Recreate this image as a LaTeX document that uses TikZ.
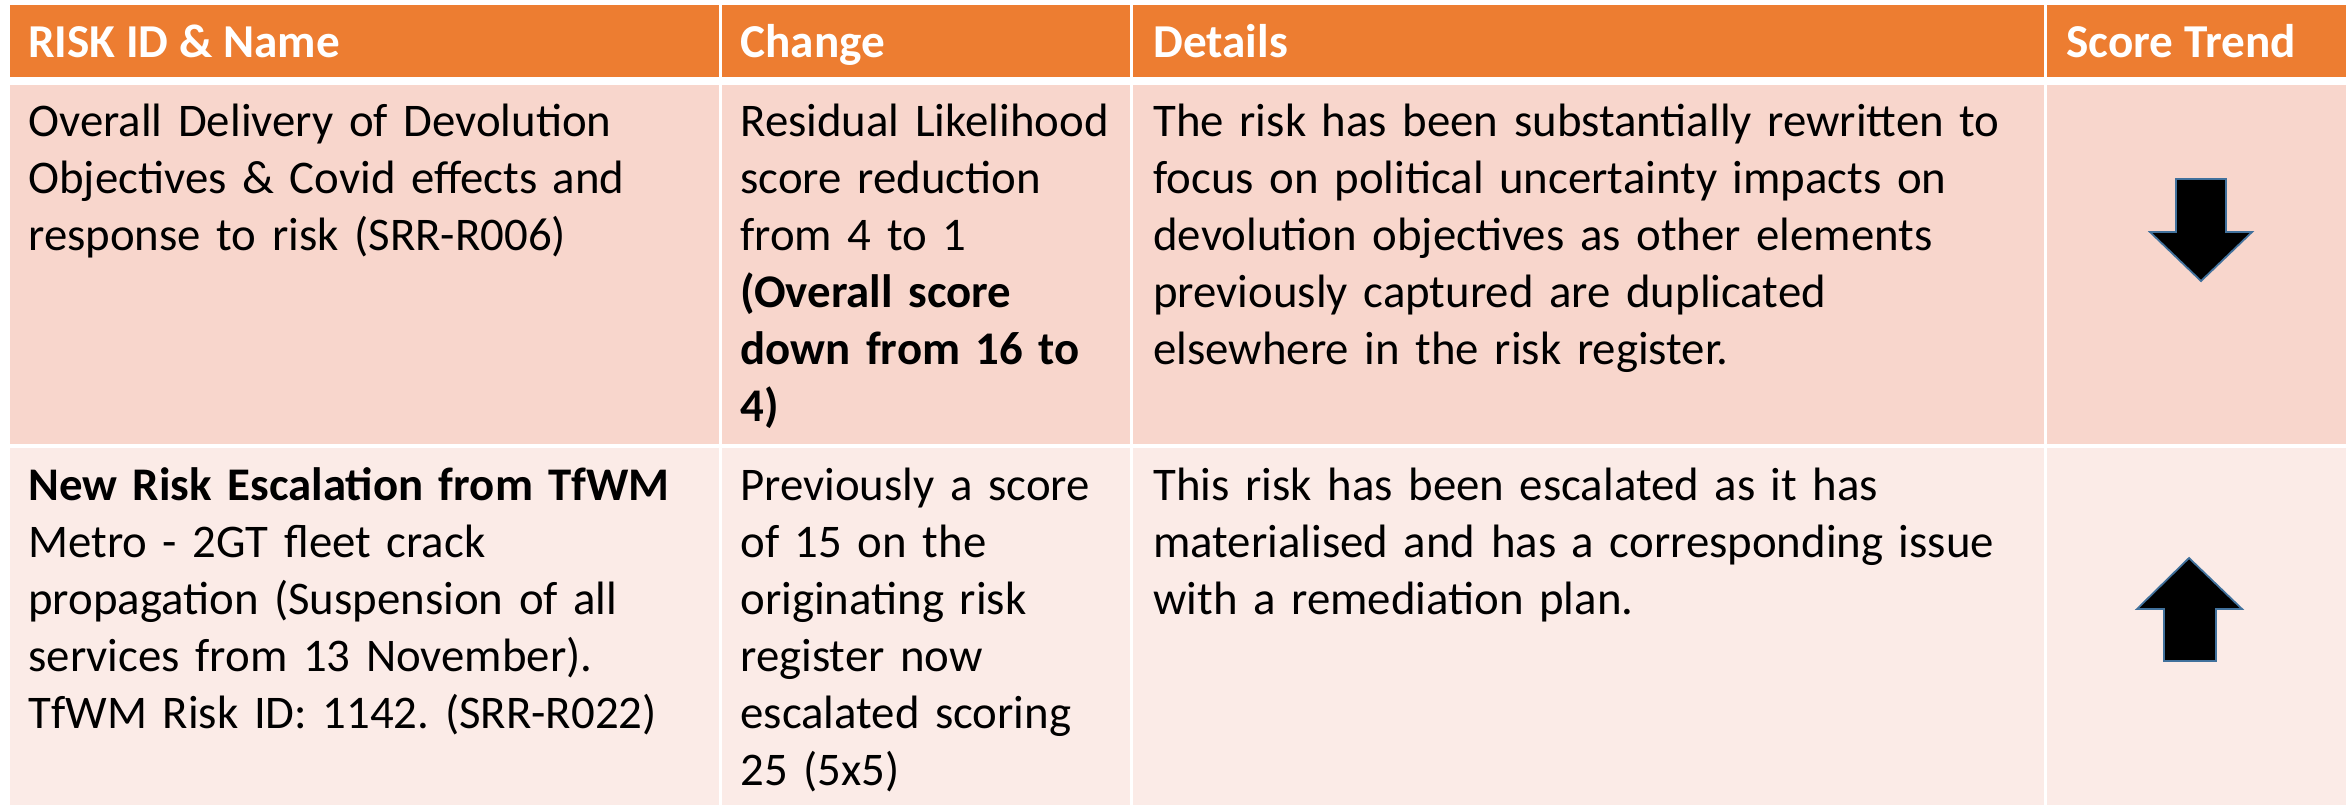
\documentclass[tikz,border=0pt]{standalone}
\usepackage{fontspec}
\setmainfont{Carlito}
\frenchspacing
\definecolor{hdrorange}{HTML}{ED7D31}
\definecolor{rowone}{HTML}{F8D6CC}
\definecolor{rowtwo}{HTML}{FBEBE7}
\definecolor{arrowrim}{HTML}{41719C}
\tikzset{
  hdrtxt/.style={anchor=base west, inner sep=0pt, text=white, font=\fontsize{23.6}{28.5}\selectfont\bfseries},
  celltxt/.style={anchor=base west, inner sep=0pt, align=left, text width=480pt, font=\fontsize{23.4}{28.5}\selectfont},
  trend/.style={fill=black, draw=arrowrim, line width=0.9pt, line join=miter},
}
\begin{document}
\begin{tikzpicture}[x=0.5pt, y=-0.5pt]
  \fill[white] (0,0) rectangle (2351,805);
  \useasboundingbox (0,0) rectangle (2351,805);

  \fill[hdrorange] (10,5) rectangle (719,77);
  \fill[hdrorange] (722,5) rectangle (1130,77);
  \fill[hdrorange] (1133,5) rectangle (2044,77);
  \fill[hdrorange] (2047,5) rectangle (2346,77);

  \fill[rowone] (10,85) rectangle (719,444);
  \fill[rowone] (722,85) rectangle (1130,444);
  \fill[rowone] (1133,85) rectangle (2044,444);
  \fill[rowone] (2047,85) rectangle (2346,444);

  \fill[rowtwo] (10,448) rectangle (719,805);
  \fill[rowtwo] (722,448) rectangle (1130,805);
  \fill[rowtwo] (1133,448) rectangle (2044,805);
  \fill[rowtwo] (2047,448) rectangle (2346,805);

  \node[hdrtxt] (hname) at (28,57) {RISK ID \& Name};
  \node[hdrtxt] (hchange) at (740,57) {Change};
  \node[hdrtxt] (hdetails) at (1153,57) {Details};
  \node[hdrtxt] (htrend) at (2066,57) {Score Trend};

  \node[celltxt] (name1) at (28,136) {Overall Delivery of Devolution\\ Objectives \& Covid effects and\\ response to risk (SRR-R006)};
  \node[celltxt] (change1) at (740,136) {Residual Likelihood\\ score reduction\\ from 4 to 1\\ \textbf{(Overall score}\\ \textbf{down from 16 to}\\ \textbf{4)}};
  \node[celltxt] (details1) at (1153,136) {The risk has been substantially rewritten to\\ focus on political uncertainty impacts on\\ devolution objectives as other elements\\ previously captured are duplicated\\ elsewhere in the risk register.};

  \node[celltxt] (name2) at (28,500) {\textbf{New Risk Escalation from TfWM}\\ Metro - 2GT fleet crack\\ propagation (Suspension of all\\ services from 13 November).\\ TfWM Risk ID: 1142. (SRR-R022)};
  \node[celltxt] (change2) at (740,500) {Previously a score\\ of 15 on the\\ originating risk\\ register now\\ escalated scoring\\ 25 (5x5)};
  \node[celltxt] (details2) at (1153,500) {This risk has been escalated as it has\\ materialised and has a corresponding issue\\ with a remediation plan.};

  \draw[trend] (2176,179) -- (2226,179) -- (2226,232) -- (2252,232) -- (2201,281) -- (2150,232) -- (2176,232) -- cycle;
  \draw[trend] (2189,558) -- (2242,609) -- (2216,609) -- (2216,661) -- (2164,661) -- (2164,609) -- (2137,609) -- cycle;
\end{tikzpicture}
\end{document}
